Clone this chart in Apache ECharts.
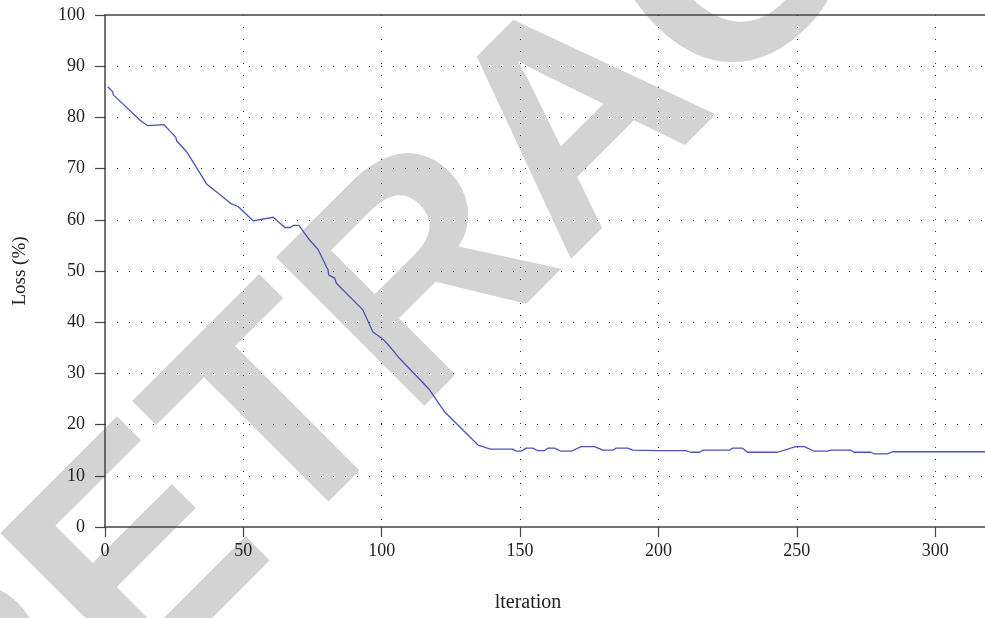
<!DOCTYPE html>
<html>
<head>
<meta charset="utf-8">
<style>
  html, body { margin: 0; padding: 0; background: #ffffff; }
  #chart { width: 985px; height: 618px; }
</style>
<script src="https://cdn.jsdelivr.net/npm/echarts@6/dist/echarts.min.js"></script>
</head>
<body>
<div id="chart"></div>
<script>
// Training loss per iteration
const iterations = [1, 2.8, 3.0, 13.2, 15.3, 21.3, 25.6, 25.9, 29.5, 36.7,
  40.9, 45.7, 48.1, 53.5, 60.8, 65.0, 67.0, 68.0, 70.1, 73.4,
  77.0, 80.6, 80.9, 83.0, 83.6, 93.2, 96.8, 100.4, 102.2, 106.5,
  117.3, 122.7, 134.8, 139.3, 147.4, 148.6, 150.4, 152.2, 154.6, 156.4,
  158.8, 160.0, 162.4, 164.8, 168.4, 172.1, 176.9, 179.9, 183.5, 184.7,
  188.9, 190.7, 200.3, 209.9, 211.7, 214.8, 216.0, 225.6, 226.8, 230.4,
  232.2, 243.0, 249.6, 252.7, 256.3, 261.1, 262.3, 269.5, 270.7, 276.7,
  277.9, 282.7, 284.6, 318];
const loss = [86.0, 85.0, 84.4, 79.2, 78.4, 78.6, 76.1, 75.4, 73.3, 67.0,
  65.2, 63.1, 62.6, 59.8, 60.5, 58.5, 58.5, 58.9, 58.9, 56.4,
  54.2, 50.2, 49.2, 48.6, 47.6, 42.4, 38.1, 36.7, 35.7, 32.9,
  26.8, 22.5, 16.0, 15.2, 15.2, 14.8, 14.8, 15.4, 15.4, 14.9,
  14.9, 15.4, 15.4, 14.8, 14.8, 15.7, 15.7, 15.0, 15.0, 15.4,
  15.4, 15.0, 14.9, 14.9, 14.6, 14.6, 15.0, 15.0, 15.4, 15.4,
  14.6, 14.6, 15.7, 15.7, 14.8, 14.8, 15.0, 15.0, 14.6, 14.6,
  14.3, 14.3, 14.7, 14.7];

const xTitle = 'lteration';
const yTitle = 'Loss (%)';
const stampText = 'RETRACTED';

const serif = '"Liberation Serif", "DejaVu Serif", serif';
const axisColor = '#444';
const dotted = { color: '#333', width: 1, type: [1, 11] };

const chart = echarts.init(document.getElementById('chart'), null, { renderer: 'canvas' });

chart.setOption({
  animation: false,
  backgroundColor: '#ffffff',
  grid: { left: 105, right: 0, top: 15, bottom: 91, containLabel: false, outerBoundsMode: 'none' },
  graphic: [{
    type: 'text',
    z: -10,
    x: 584,
    y: 127,
    rotation: Math.PI / 4,
    silent: true,
    style: {
      text: stampText,
      font: 'bold 305px "Liberation Sans", Arial, sans-serif',
      fill: '#d3d3d3',
      align: 'center',
      verticalAlign: 'middle'
    }
  }],
  xAxis: [{
    type: 'value',
    min: 0,
    max: 318,
    interval: 50,
    name: xTitle,
    nameLocation: 'middle',
    nameGap: 66,
    nameTextStyle: { fontFamily: serif, fontSize: 20, color: '#222', padding: [0, 34, 0, 0] },
    axisLine: { show: true, onZero: false, lineStyle: { color: axisColor, width: 1.5 } },
    axisTick: { show: true, inside: false, length: 10, lineStyle: { color: axisColor, width: 1.2 } },
    axisLabel: { fontFamily: serif, fontSize: 18, color: '#222', margin: 15, showMaxLabel: false },
    splitLine: { show: true, showMinLine: false, showMaxLine: false, lineStyle: dotted }
  }, {
    type: 'value',
    position: 'top',
    min: 0,
    max: 318,
    axisLine: { show: true, onZero: false, lineStyle: { color: axisColor, width: 1.5 } },
    axisTick: { show: false },
    axisLabel: { show: false },
    splitLine: { show: false }
  }],
  yAxis: {
    type: 'value',
    min: 0,
    max: 100,
    interval: 10,
    name: yTitle,
    nameLocation: 'middle',
    nameGap: 75,
    nameRotate: 90,
    nameTextStyle: { fontFamily: serif, fontSize: 19, color: '#222' },
    axisLine: { show: true, onZero: false, lineStyle: { color: axisColor, width: 1.5 } },
    axisTick: { show: true, inside: false, length: 10, lineStyle: { color: axisColor, width: 1.2 } },
    axisLabel: { fontFamily: serif, fontSize: 18, color: '#222', margin: 20 },
    splitLine: { show: true, showMinLine: false, showMaxLine: false, lineStyle: dotted }
  },
  series: [{
    type: 'line',
    xAxisIndex: 0,
    data: iterations.map((x, i) => [x, loss[i]]),
    showSymbol: false,
    symbol: 'none',
    lineStyle: { color: '#4b53b5', width: 1.3 },
    z: 3
  }]
});
</script>
</body>
</html>
